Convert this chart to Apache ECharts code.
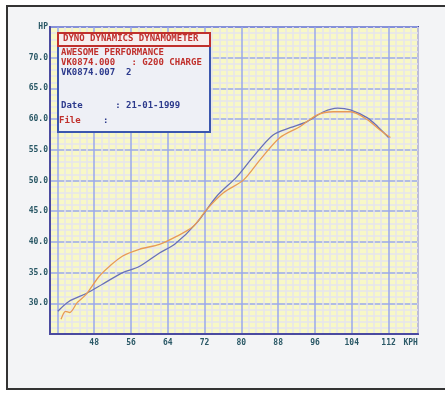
<!DOCTYPE html>
<html>
<head>
<meta charset="utf-8">
<script src="https://cdn.jsdelivr.net/npm/echarts@6/dist/echarts.min.js"></script>
<style>
  html, body { margin: 0; padding: 0; background: #fff; overflow: hidden; width: 445px; height: 393px; position: relative; }
  #frame {
    position: absolute; left: 6px; top: 5px; width: 520px; height: 381px;
    border-left: 2px solid #333; border-top: 2px solid #333; border-bottom: 2px solid #333;
    border-right: none;
    background: #f3f4f6;
  }
  #chart { position: absolute; left: 0; top: 0; width: 445px; height: 393px; }
</style>
</head>
<body>
<div id="frame"></div>
<div id="chart"></div>
<script>
// speed (KPH) / power (HP) readings of the two runs
const blueSpeed = [40.1, 42.5, 46.3, 49.8, 54.2, 57.8, 62.2, 65.5, 70.3, 74.6, 79.0, 82.6, 86.9, 90.6, 94.3, 97.9, 100.9, 103.7, 107.4, 109.6, 112.0];
const bluePower = [28.7, 30.3, 31.6, 33.1, 35.0, 36.0, 38.2, 39.6, 43.1, 47.4, 50.6, 53.9, 57.4, 58.6, 59.6, 61.2, 61.8, 61.5, 60.2, 58.8, 57.0];

const orangeSpeed = [40.8, 41.8, 42.7, 44.3, 46.2, 49.1, 51.3, 54.2, 57.8, 62.2, 65.9, 69.5, 72.5, 76.1, 80.5, 84.1, 88.4, 92.8, 96.5, 100.0, 103.7, 107.4, 110.2, 112.4];
const orangePower = [27.4, 28.7, 28.5, 30.1, 31.4, 34.4, 36.0, 37.7, 38.8, 39.6, 40.9, 42.5, 45.3, 48.0, 50.1, 53.4, 57.0, 58.8, 60.7, 61.2, 61.2, 59.9, 58.2, 57.0];

const xTickLabels = [48, 56, 64, 72, 80, 88, 96, 104, 112];
const yTickLabels = [30, 35, 40, 45, 50, 55, 60, 65, 70];
const xUnit = 'KPH';
const yUnit = 'HP';

const infoLines = [
  { text: 'AWESOME PERFORMANCE', color: '#c0302c' },
  { text: 'VK0874.000   : G200 CHARGE', color: '#c0302c' },
  { text: 'VK0874.007  2', color: '#2c3a8c' }
];

const zip = (xs, ys) => xs.map((x, i) => [x, ys[i]]);

const MINOR = '#e6e4ee';
const MAJOR = '#9aa8ec';
const AXIS = '#4a4aa0';
const LABEL = '#2a5866';
const MONO = '"DejaVu Sans Mono", monospace';

const chart = echarts.init(document.getElementById('chart'));

chart.setOption({
  backgroundColor: 'transparent',
  animation: false,
  grid: {
    left: 50, top: 27, right: 27, bottom: 59,
    show: true, backgroundColor: '#f8f8c6',
    borderColor: AXIS, borderWidth: 2
  },
  xAxis: {
    type: 'value',
    min: 38.4, max: 118.4, interval: 1.6,
    axisLine: { show: true, lineStyle: { color: AXIS, width: 2 } },
    axisTick: { show: false },
    splitLine: { show: true, lineStyle: { color: [MINOR, MAJOR, MINOR, MINOR, MINOR], width: 1.5 } },
    axisLabel: {
      interval: 0, margin: 5, hideOverlap: false,
      color: LABEL, fontFamily: MONO, fontSize: 8, fontWeight: 'bold',
      formatter: v => {
        const r = Math.round(v * 10) / 10;
        if (xTickLabels.includes(r)) return String(r);
        if (Math.abs(r - 116.8) < 0.01) return xUnit;
        return '';
      }
    }
  },
  yAxis: {
    type: 'value',
    min: 25, max: 75, interval: 1,
    axisLine: { show: true, lineStyle: { color: AXIS, width: 2 } },
    axisTick: { show: false },
    splitLine: { show: true, lineStyle: { color: [MAJOR, MINOR, MINOR, MINOR, MINOR], width: 1.5 } },
    axisLabel: {
      interval: 0, margin: 2, hideOverlap: false,
      color: LABEL, fontFamily: MONO, fontSize: 8, fontWeight: 'bold',
      formatter: v => {
        const r = Math.round(v);
        if (yTickLabels.includes(r)) return r.toFixed(1);
        if (r === 75) return yUnit;
        return '';
      }
    }
  },
  series: [
    {
      type: 'line', data: zip(blueSpeed, bluePower), smooth: 0.3,
      symbol: 'none', lineStyle: { color: '#6870b8', width: 1.3 }
    },
    {
      type: 'line', data: zip(orangeSpeed, orangePower), smooth: 0.3,
      symbol: 'none', lineStyle: { color: '#e89a55', width: 1.3 }
    }
  ],
  graphic: [
    {
      type: 'rect', left: 57, top: 45, z: 10,
      shape: { width: 152, height: 86 },
      style: { fill: '#eef0f6', stroke: '#3a56ae', lineWidth: 2 }
    },
    {
      type: 'rect', left: 57, top: 32, z: 11,
      shape: { width: 152, height: 13 },
      style: { fill: '#f7eeee', stroke: '#c0302c', lineWidth: 2 }
    },
    {
      type: 'text', left: 63, top: 34, z: 12,
      style: { text: 'DYNO DYNAMICS DYNAMOMETER', fill: '#c0302c', font: 'bold 9px ' + MONO }
    },
    ...infoLines.map((l, i) => ({
      type: 'text', left: 61, top: 48 + i * 10, z: 12,
      style: { text: l.text, fill: l.color, font: 'bold 9px ' + MONO }
    })),
    {
      type: 'text', left: 61, top: 101, z: 12,
      style: { text: 'Date      : 21-01-1999', fill: '#2c3a8c', font: 'bold 9px ' + MONO }
    },
    {
      type: 'text', left: 59, top: 116, z: 12,
      style: { text: 'File', fill: '#c0302c', font: 'bold 9px ' + MONO }
    },
    {
      type: 'text', left: 103, top: 116, z: 12,
      style: { text: ':', fill: '#2c3a8c', font: 'bold 9px ' + MONO }
    }
  ]
});
</script>
</body>
</html>
